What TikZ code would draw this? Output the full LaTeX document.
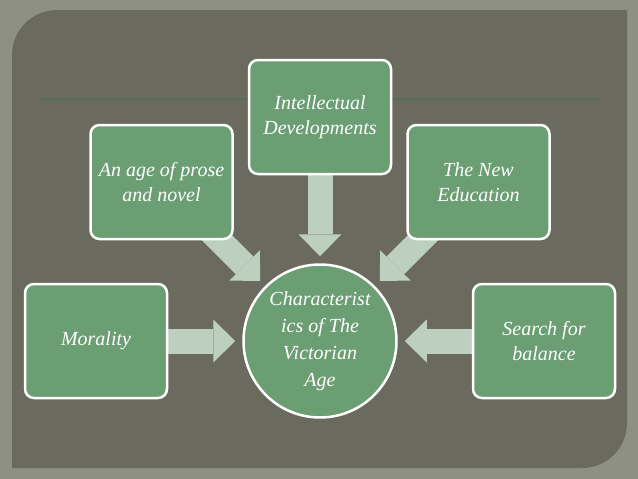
\documentclass[tikz,border=0pt]{standalone}
\usepackage{fontspec}
\setmainfont{Liberation Serif}
\usepackage{tikz}
\usetikzlibrary{arrows.meta,positioning,backgrounds}
\definecolor{slideGray}{HTML}{8E9081}
\definecolor{panelGray}{HTML}{6A6B5E}
\definecolor{tileGreen}{HTML}{6B9E72}
\definecolor{flowMint}{HTML}{BDD0C0}
\definecolor{ruleGreen}{HTML}{52705A}

\begin{document}
\begin{tikzpicture}[
  x=1pt, y=-1pt,
  node distance=14pt,
  tile/.style={draw=white, line width=2.5pt, rounded corners=9pt, fill=tileGreen, text=white, align=center, minimum width=142pt, minimum height=114pt, font=\itshape\fontsize{20}{25}\selectfont},
  hubcircle/.style={circle, draw=white, line width=2.5pt, fill=tileGreen, text=white, align=center, minimum size=153pt, inner sep=0pt, font=\itshape\fontsize{20}{27}\selectfont},
  flow/.style={line width=25pt, color=flowMint, -{Triangle[length=22pt,width=43pt,line width=0pt]}, shorten >=7pt}
]
  \useasboundingbox (0,0) rectangle (638,479);
  \node[hubcircle] (hub) at (320,341) {Characterist\\ics of The\\Victorian\\Age};
  \node[tile, above=88pt of hub] (intel) {Intellectual\\Developments};
  \node[tile, left=14pt of intel, yshift=-65pt] (prose) {An age of prose\\and novel};
  \node[tile, right=14pt of intel, yshift=-65pt] (newedu) {The New\\Education};
  \node[tile, left=74pt of hub] (moral) {Morality};
  \node[tile, right=74pt of hub] (balance) {Search for\\balance};

  \begin{scope}[on background layer]
    \fill[slideGray] (0,0) rectangle (638,479);
    \fill[panelGray] (12,468) -- (12,55) arc[start angle=180, end angle=270, radius=45] -- (627,10) -- (627,423) arc[start angle=0, end angle=90, radius=45] -- cycle;
    \draw[ruleGreen, line width=2pt] (40,99) -- (600,99);
    \draw[flow] (intel.center) -- (hub);
    \draw[flow] (prose.center) -- (hub);
    \draw[flow] (newedu.center) -- (hub);
    \draw[flow] (moral.center) -- (hub);
    \draw[flow] (balance.center) -- (hub);
  \end{scope}
\end{tikzpicture}
\end{document}
